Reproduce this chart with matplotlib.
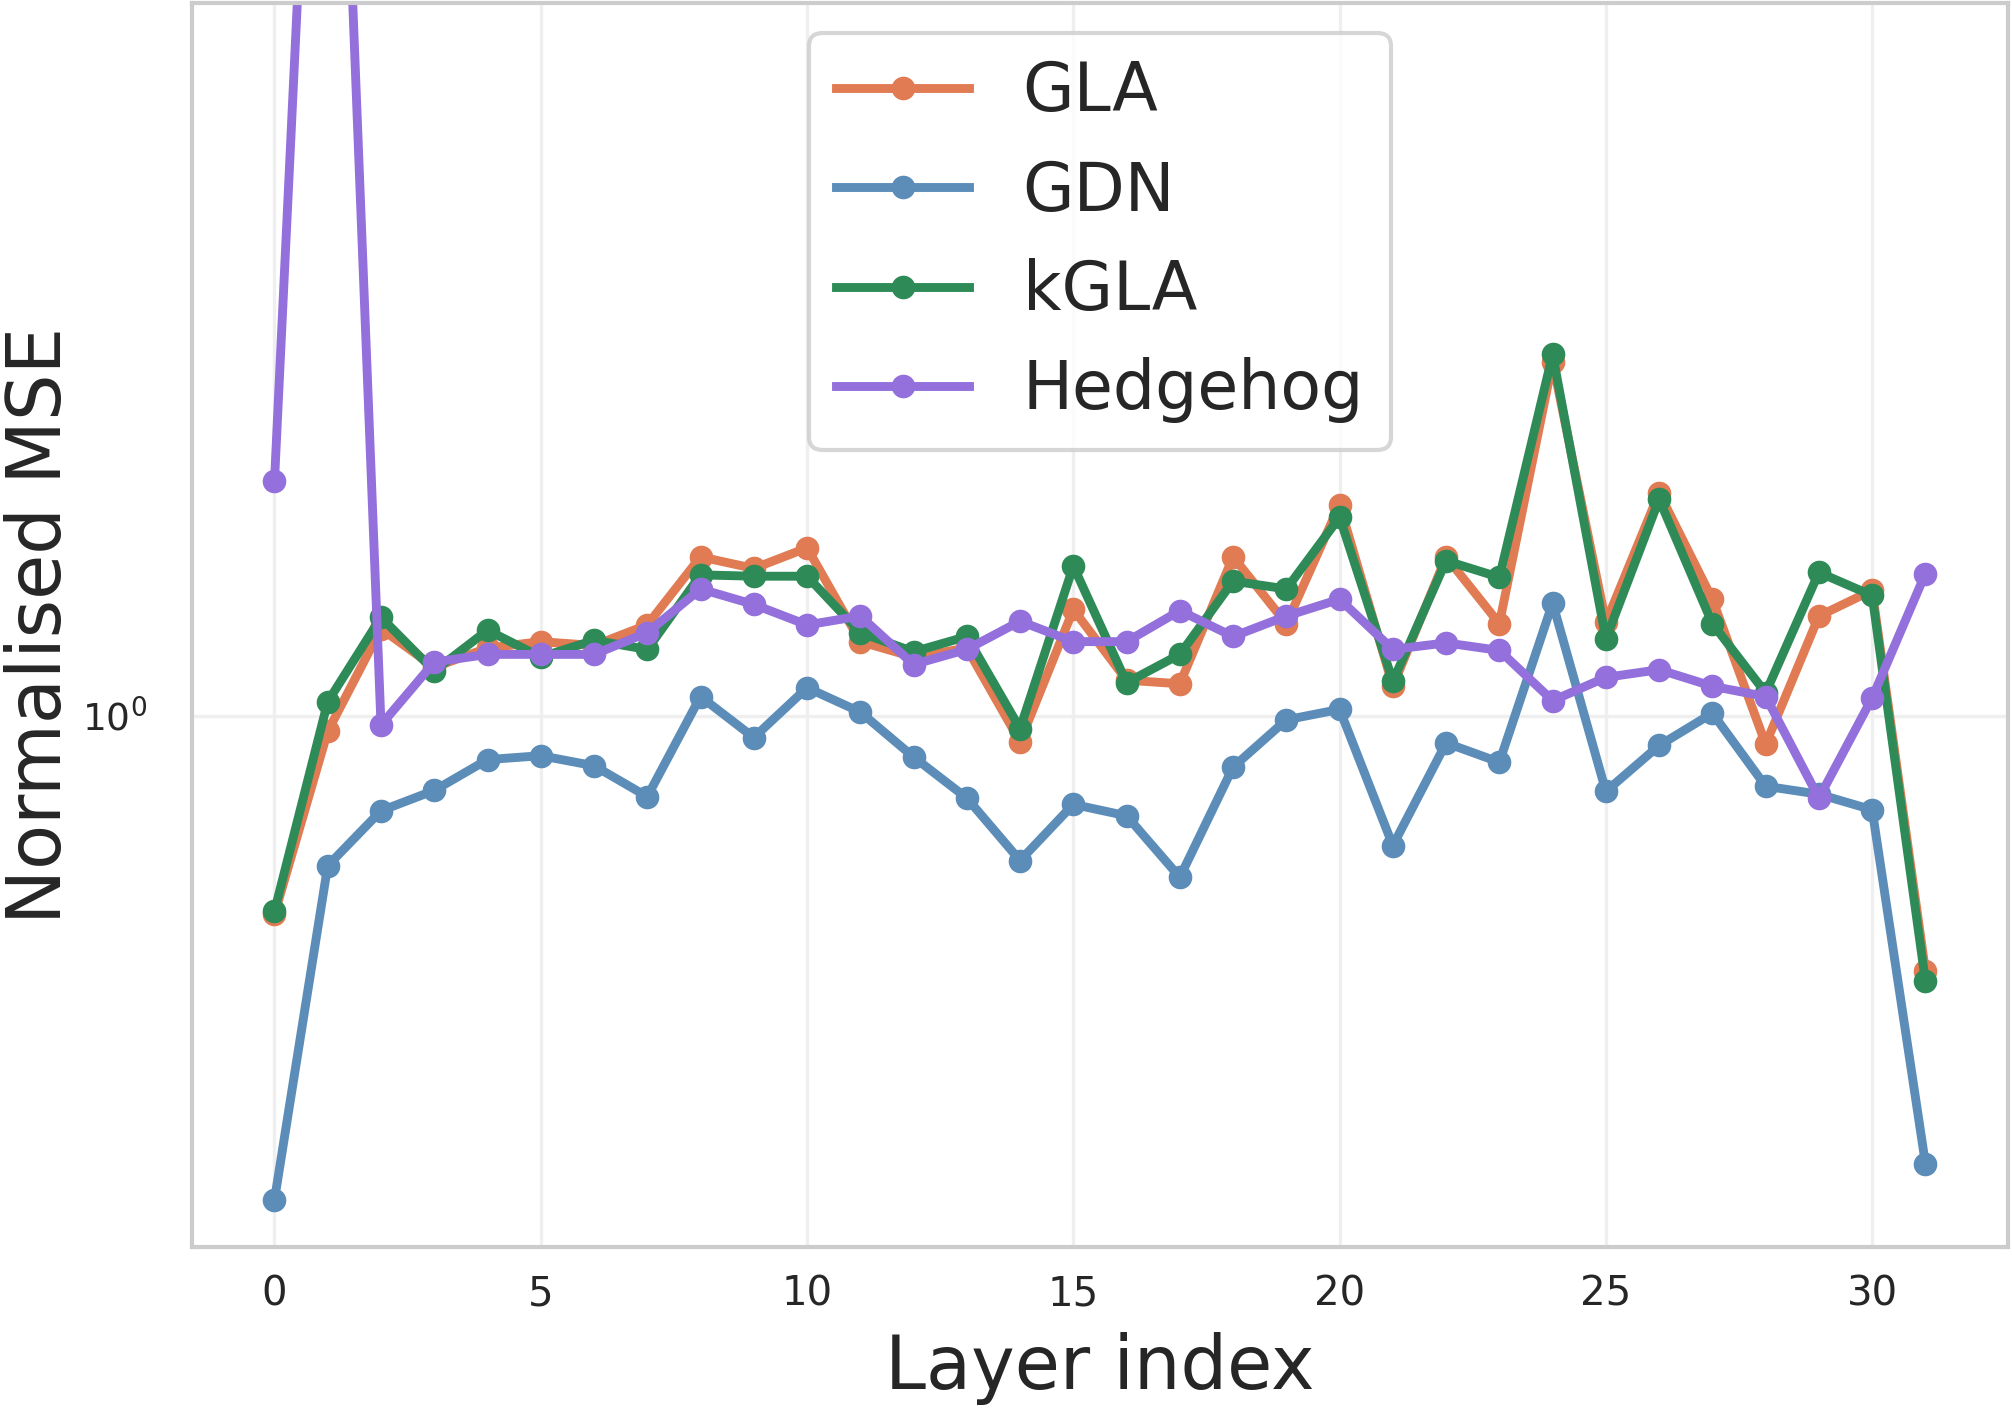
import numpy as np
import matplotlib
matplotlib.use("Agg")
import matplotlib.pyplot as plt

# per-layer normalised MSE (log axis)
layers = np.arange(32)

gla = [0.601, 0.961, 1.251, 1.133, 1.190, 1.210, 1.198, 1.263, 1.504, 1.460,
       1.539, 1.210, 1.163, 1.190, 0.936, 1.314, 1.096, 1.086, 1.504, 1.267,
       1.720, 1.079, 1.504, 1.267, 2.480, 1.271, 1.773, 1.349, 0.930, 1.292,
       1.380, 0.520]

gdn = [0.289, 0.681, 0.784, 0.826, 0.894, 0.903, 0.880, 0.813, 1.051, 0.946,
       1.075, 1.010, 0.900, 0.810, 0.690, 0.797, 0.774, 0.661, 0.877, 0.990,
       1.017, 0.717, 0.933, 0.888, 1.336, 0.824, 0.927, 1.007, 0.835, 0.818,
       0.786, 0.317]

kgla = [0.606, 1.037, 1.288, 1.122, 1.246, 1.163, 1.214, 1.186, 1.436, 1.431,
        1.431, 1.238, 1.179, 1.226, 0.968, 1.469, 1.089, 1.171, 1.413, 1.385,
        1.665, 1.093, 1.489, 1.427, 2.528, 1.218, 1.743, 1.267, 1.061, 1.445,
        1.362, 0.506]

hedgehog = [1.826, 32.0, 0.977, 1.148, 1.171, 1.171, 1.171, 1.238, 1.385, 1.331,
            1.263, 1.292, 1.141, 1.186, 1.275, 1.210, 1.210, 1.310, 1.226, 1.292,
            1.349, 1.186, 1.206, 1.183, 1.040, 1.104, 1.126, 1.079, 1.051, 0.810,
            1.047, 1.441]

series = [
    ("GLA", gla, "#e07b54"),
    ("GDN", gdn, "#5b8db8"),
    ("kGLA", kgla, "#2e8b57"),
    ("Hedgehog", hedgehog, "#9370db"),
]

plt.rcParams["font.family"] = ["DejaVu Sans"]

fig = plt.figure(figsize=(10.06, 7.04), dpi=200)
ax = fig.add_axes([0.0954, 0.1143, 0.9026, 0.8837])

for name, vals, col in series:
    ax.plot(layers, vals, color=col, lw=3.2, marker="o", ms=7.5, label=name)

ax.set_yscale("log")
ax.set_ylim(0.256, 6.23)
ax.set_xlim(-1.55, 32.55)
ax.set_xticks([0, 5, 10, 15, 20, 25, 30])

ax.grid(True, which="major", color="#efefef", lw=1.2)
ax.set_axisbelow(True)
for s in ax.spines.values():
    s.set_color("#cccccc")
    s.set_linewidth(1.5)

ax.tick_params(axis="both", which="both", length=0, labelsize=14.5, labelcolor="#262626")
ax.tick_params(axis="x", pad=10)
ax.tick_params(axis="y", pad=16, labelsize=13.5)
ax.yaxis.set_minor_formatter(matplotlib.ticker.NullFormatter())

ax.set_xlabel("Layer index", fontsize=26.5, color="#262626", labelpad=6)
ax.set_ylabel("Normalised MSE", fontsize=26.5, color="#262626", labelpad=2)

leg = ax.legend(loc="upper center", fontsize=24, frameon=True, fancybox=True,
                borderaxespad=0.45, handlelength=2.0, labelspacing=0.5)
leg.get_frame().set_edgecolor("#cccccc")
leg.get_frame().set_linewidth(1.5)
for t in leg.get_texts():
    t.set_color("#262626")

fig.savefig("out.png", dpi=200)
